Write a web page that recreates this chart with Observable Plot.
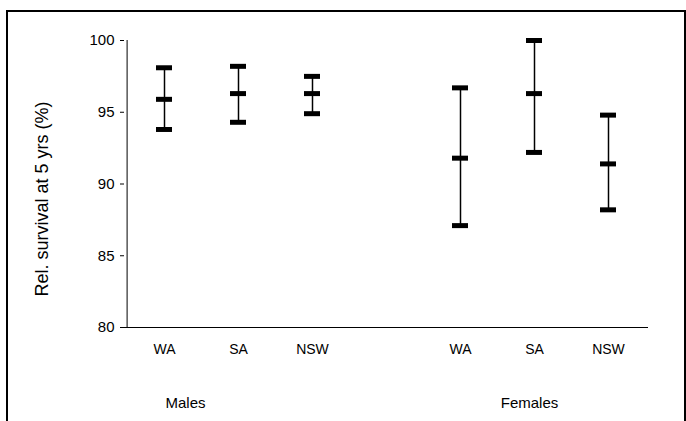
<!DOCTYPE html>
<html>
<head>
<meta charset="utf-8">
<script src="https://cdn.jsdelivr.net/npm/d3@7"></script>
<script src="https://cdn.jsdelivr.net/npm/@observablehq/plot@0.6"></script>
<style>
  body { margin: 0; background: #fff; }
  #wrap { position: relative; width: 686px; height: 421px; overflow: hidden; }
  #border { position: absolute; left: 6px; top: 10px; width: 676px; height: 430px; border: 2px solid #000; }
  svg { position: absolute; left: 0; top: 0; font-family: "Liberation Sans", Arial, sans-serif; }
</style>
</head>
<body>
<div id="wrap"><div id="border"></div></div>
<script>
const slots = ["M-WA", "M-SA", "M-NSW", "gap", "F-WA", "F-SA", "F-NSW"];
const tickLabels = ["WA", "SA", "NSW", "", "WA", "SA", "NSW"];
const groups = ["Males", "Females"];
const groupAnchor = ["M-WA", "F-SA"];
const categories = ["M-WA", "M-SA", "M-NSW", "F-WA", "F-SA", "F-NSW"];
const lower = [93.8, 94.3, 94.9, 87.1, 92.2, 88.2];
const mid   = [95.9, 96.3, 96.3, 91.8, 96.3, 91.4];
const upper = [98.1, 98.2, 97.5, 96.7, 100.0, 94.8];
const yTicks = [80, 85, 90, 95, 100];

const data = categories.map((c, i) => ({cat: c, lo: lower[i], mid: mid[i], hi: upper[i]}));
const labelMap = new Map(slots.map((s, i) => [s, tickLabels[i]]));
const capInset = 29;

const chart = Plot.plot({
  width: 686,
  height: 421,
  marginLeft: 124,
  marginRight: 38,
  marginTop: 40,
  marginBottom: 94,
  style: {fontFamily: "'Liberation Sans', Arial, sans-serif", background: "transparent", overflow: "visible"},
  x: {type: "band", domain: slots, padding: 0},
  y: {domain: [80, 100]},
  marks: [
    Plot.ruleY([80], {stroke: "#000", strokeWidth: 1}),
    Plot.ruleX([slots[0]], {y1: 80, y2: 100, dx: -37.4, stroke: "#000", strokeWidth: 1}),
    Plot.axisY({ticks: yTicks, tickSize: 4, tickPadding: 6, fontSize: 15, label: null, stroke: "#000", color: "#000"}),
    Plot.axisX({ticks: slots.filter(s => s !== "gap"), tickSize: 0, tickPadding: 17, fontSize: 14, label: null, tickFormat: d => labelMap.get(d), color: "#000"}),
    Plot.text(["Rel. survival at 5 yrs (%)"], {frameAnchor: "left", textAnchor: "middle", rotate: -90, dx: -82, dy: 15, fontSize: 18, fill: "#000"}),
    Plot.text([groups[0]], {x: [groupAnchor[0]], frameAnchor: "bottom", dy: 80, dx: 21, fontSize: 15, fill: "#000", text: d => d}),
    Plot.text([groups[1]], {x: [groupAnchor[1]], frameAnchor: "bottom", dy: 80, dx: -5, fontSize: 15, fill: "#000", text: d => d}),
    Plot.ruleX(data, {x: "cat", y1: "lo", y2: "hi", stroke: "#000", strokeWidth: 1.5}),
    Plot.tickY(data, {x: "cat", y: "lo", stroke: "#000", strokeWidth: 5, insetLeft: capInset, insetRight: capInset}),
    Plot.tickY(data, {x: "cat", y: "mid", stroke: "#000", strokeWidth: 5, insetLeft: capInset, insetRight: capInset}),
    Plot.tickY(data, {x: "cat", y: "hi", stroke: "#000", strokeWidth: 5, insetLeft: capInset, insetRight: capInset})
  ]
});
document.getElementById("wrap").appendChild(chart);
</script>
</body>
</html>
